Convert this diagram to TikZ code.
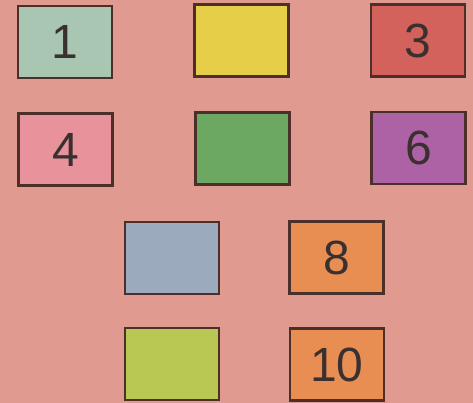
\documentclass[tikz,border=0pt]{standalone}
\usepackage{fontspec}
\setmainfont{Liberation Sans}
\definecolor{bgc}{HTML}{E09A90}
\definecolor{edge}{HTML}{4A3028}
\definecolor{digit}{HTML}{3A3030}
\definecolor{c1}{HTML}{A8C6B2}
\definecolor{c2}{HTML}{E6CE48}
\definecolor{c3}{HTML}{D4625C}
\definecolor{c4}{HTML}{E8929C}
\definecolor{c5}{HTML}{6CA862}
\definecolor{c6}{HTML}{AE62A6}
\definecolor{c7}{HTML}{9CAABE}
\definecolor{c8}{HTML}{E88E52}
\definecolor{c9}{HTML}{B8C852}
\begin{document}
\begin{tikzpicture}[x=1pt,y=-1pt,
  tile/.style={draw=edge,line width=2.4pt,minimum width=94pt,minimum height=72pt,inner sep=0pt,
    font=\fontsize{48}{48}\selectfont,text=digit}]
\fill[bgc] (0,0) rectangle (473,403);
\useasboundingbox (0,0) rectangle (473,403);
\node[tile,fill=c1] (t1) at (65,42) {1};
\node[tile,fill=c2] (t2) at (241.5,40.5) {};
\node[tile,fill=c3] (t3) at (418,40.5) {3};
\node[tile,fill=c4] (t4) at (65.5,149.5) {4};
\node[tile,fill=c5] (t5) at (242.5,148.5) {};
\node[tile,fill=c6] (t6) at (418.5,148) {6};
\node[tile,fill=c7] (t7) at (172,258) {};
\node[tile,fill=c8] (t8) at (336.5,257.5) {8};
\node[tile,fill=c9] (t9) at (172,364) {};
\node[tile,fill=c8] (t10) at (337,364.5) {10};
\end{tikzpicture}
\end{document}
